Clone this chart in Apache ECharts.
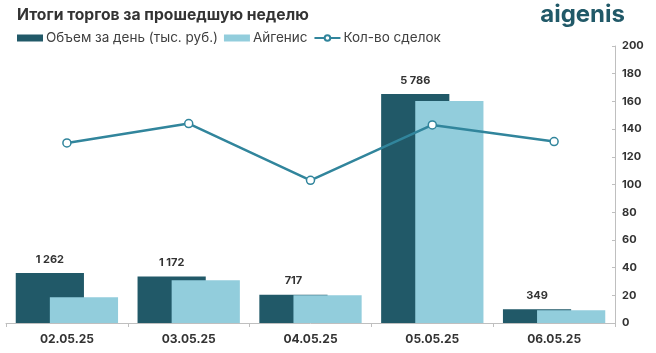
<!DOCTYPE html>
<html>
<head>
<meta charset="utf-8">
<script src="https://cdn.jsdelivr.net/npm/echarts@6/dist/echarts.min.js"></script>
<style>
  html, body { margin: 0; padding: 0; background: #fff; }
  #chart { width: 656px; height: 353px; }
</style>
</head>
<body>
<div id="chart"></div>
<script>
var days = ['02.05.25', '03.05.25', '04.05.25', '05.05.25', '06.05.25'];
var volumeTotal = [1262, 1172, 717, 5786, 349];
var volumeAigenis = [650, 1080, 700, 5610, 320];
var dealsCount = [130, 144, 103, 143, 131];

var FONT = 'Inter, "Open Sans", sans-serif';

function spaced(v) {
    return String(v).replace(/\B(?=(\d{3})+(?!\d))/g, ' ');
}

var chart = echarts.init(document.getElementById('chart'));

var option = {
    animation: false,
    textStyle: { fontFamily: FONT },
    title: {
        text: 'Итоги торгов за прошедшую неделю',
        left: 12,
        top: 2,
        textStyle: { fontSize: 15.7, fontWeight: 'bold', color: '#333', fontFamily: FONT }
    },
    graphic: [{
        type: 'text',
        right: 31,
        top: 3,
        style: {
            text: 'aigenis',
            fontSize: 24,
            fontWeight: 'bold',
            fill: '#215968',
            fontFamily: FONT
        }
    }],
    legend: {
        left: 12,
        top: 26,
        itemWidth: 26,
        itemHeight: 7,
        itemGap: 6,
        textStyle: { fontSize: 13.5, color: '#404040', fontFamily: FONT, padding: [0, 0, 0, -2] },
        data: [
            { name: 'Объем за день (тыс. руб.)', icon: 'rect' },
            { name: 'Айгенис', icon: 'rect' },
            { name: 'Кол-во сделок' }
        ]
    },
    grid: { left: 6, right: 41, top: 46, bottom: 30 },
    xAxis: {
        type: 'category',
        data: days,
        axisLine: { lineStyle: { color: '#bfbfbf' } },
        axisTick: { show: true, length: 4, lineStyle: { color: '#bfbfbf' } },
        axisLabel: { fontSize: 12, fontWeight: 'bold', color: '#333', margin: 10 }
    },
    yAxis: [{
        type: 'value',
        min: 0,
        max: 7000,
        show: false
    }, {
        type: 'value',
        position: 'right',
        min: 0,
        max: 200,
        interval: 20,
        axisLine: { show: true, lineStyle: { color: '#bfbfbf' } },
        axisTick: { show: true, inside: true, length: 3, lineStyle: { color: '#bfbfbf' } },
        splitLine: { show: false },
        axisLabel: { fontSize: 11, fontWeight: 'bold', color: '#333', margin: 7 }
    }],
    series: [{
        name: 'Объем за день (тыс. руб.)',
        type: 'bar',
        yAxisIndex: 0,
        data: volumeTotal,
        barGap: '-50%',
        barCategoryGap: '16%',
        itemStyle: { color: '#215968' },
        label: {
            show: true,
            position: 'top',
            distance: 8,
            fontSize: 11,
            fontWeight: 'bold',
            color: '#333',
            formatter: function (p) { return spaced(p.value); }
        }
    }, {
        name: 'Айгенис',
        type: 'bar',
        yAxisIndex: 0,
        data: volumeAigenis,
        itemStyle: { color: '#92cddc' }
    }, {
        name: 'Кол-во сделок',
        type: 'line',
        yAxisIndex: 1,
        data: dealsCount,
        symbol: 'circle',
        symbolSize: 8,
        lineStyle: { color: '#31859c', width: 2.5 },
        itemStyle: { color: '#fff', borderColor: '#31859c', borderWidth: 1.5 },
        z: 5
    }]
};

chart.setOption(option);
</script>
</body>
</html>
